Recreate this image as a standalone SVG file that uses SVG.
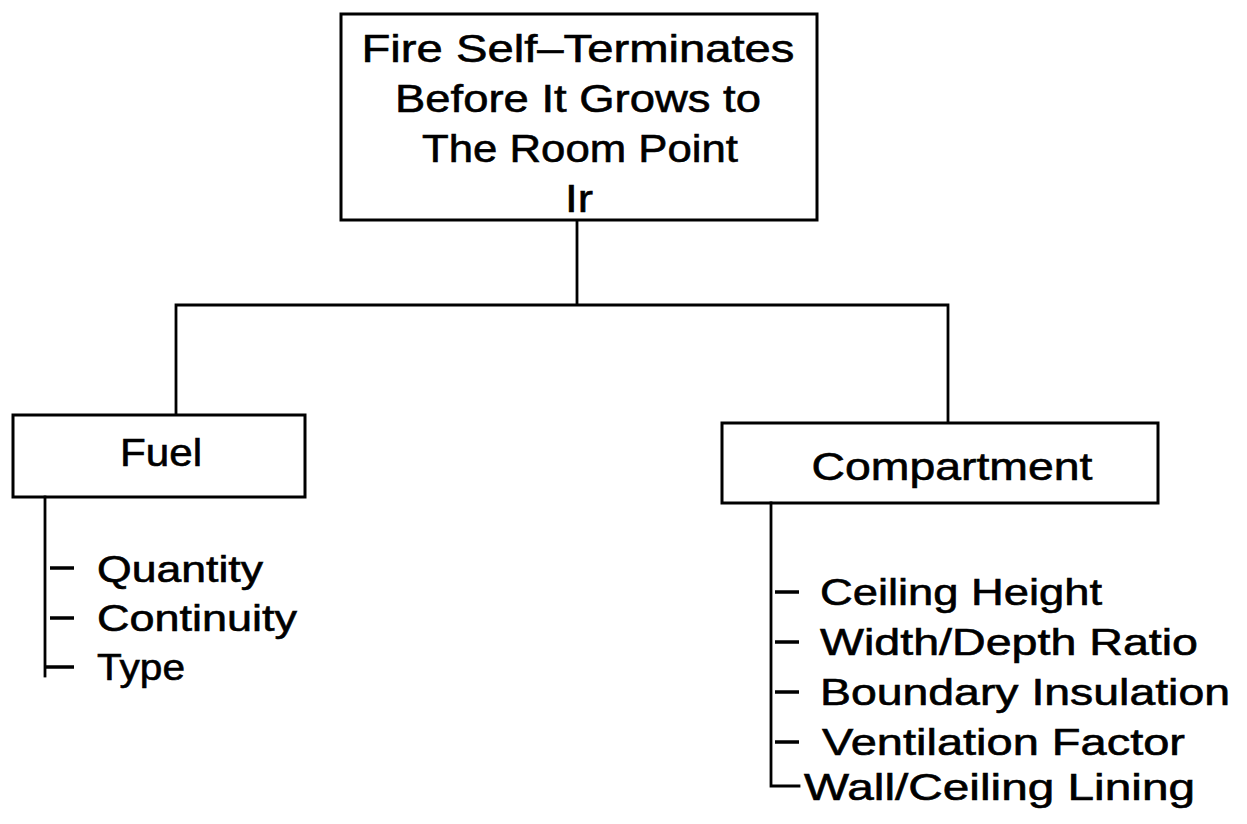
<svg xmlns="http://www.w3.org/2000/svg" width="1247" height="824" viewBox="0 0 1247 824">
<style>
.box{fill:#fff;stroke:#000;stroke-width:3}
.ln{fill:none;stroke:#000;stroke-width:2.8;stroke-linecap:square}
.dash{fill:none;stroke:#000;stroke-width:3.5}
.t{font-family:"Liberation Sans",Arial,sans-serif;fill:#000;stroke:#000;stroke-width:0.6;font-size:39px}
.h{text-anchor:middle}
.l{font-size:37px}
</style>
<rect width="1247" height="824" fill="#fff"/>
<g id="connectors">
<path class="ln" d="M577 220 V305 M176 305 H948 M176 305 V415 M948 305 V423"/>
</g>
<g id="node-top">
<rect class="box" x="341" y="14" width="476" height="206"/>
<text class="t h" x="578" y="62" textLength="433" lengthAdjust="spacingAndGlyphs">Fire Self–Terminates</text>
<text class="t h" x="578" y="112" textLength="366" lengthAdjust="spacingAndGlyphs">Before It Grows to</text>
<text class="t h" x="580" y="162" textLength="316" lengthAdjust="spacingAndGlyphs">The Room Point</text>
<text class="t h" x="579" y="212" textLength="28" lengthAdjust="spacingAndGlyphs">Ir</text>
</g>
<g id="node-fuel">
<rect class="box" x="13" y="415" width="292" height="82"/>
<text class="t h" x="161" y="466" textLength="82" lengthAdjust="spacingAndGlyphs">Fuel</text>
<path class="ln" d="M45 497 V676"/>
<path class="dash" d="M50 568 H74 M50 618 H74 M45 667 H74"/>
<text class="t l" x="97" y="582" textLength="166" lengthAdjust="spacingAndGlyphs">Quantity</text>
<text class="t l" x="97" y="631" textLength="200" lengthAdjust="spacingAndGlyphs">Continuity</text>
<text class="t l" x="97" y="680" textLength="88" lengthAdjust="spacingAndGlyphs">Type</text>
</g>
<g id="node-compartment">
<rect class="box" x="722" y="423" width="436" height="80"/>
<text class="t h" x="952" y="480" textLength="281" lengthAdjust="spacingAndGlyphs">Compartment</text>
<path class="ln" d="M771 503 V786 H799"/>
<path class="dash" d="M775 592 H799 M775 642 H799 M775 692 H799 M775 742 H799"/>
<text class="t l" x="820" y="605" textLength="282" lengthAdjust="spacingAndGlyphs">Ceiling Height</text>
<text class="t l" x="820" y="655" textLength="378" lengthAdjust="spacingAndGlyphs">Width/Depth Ratio</text>
<text class="t l" x="820" y="705" textLength="410" lengthAdjust="spacingAndGlyphs">Boundary Insulation</text>
<text class="t l" x="822" y="755" textLength="363" lengthAdjust="spacingAndGlyphs">Ventilation Factor</text>
<text class="t l" x="804" y="800" textLength="391" lengthAdjust="spacingAndGlyphs">Wall/Ceiling Lining</text>
</g>
</svg>
